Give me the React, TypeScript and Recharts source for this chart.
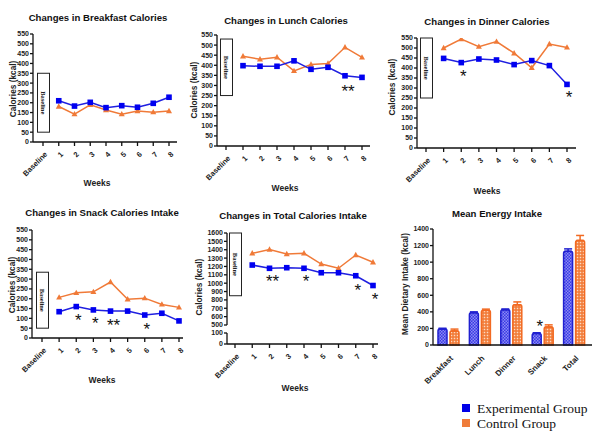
import React from 'react';
import {
  LineChart, Line, XAxis, YAxis, ReferenceArea, ReferenceDot,
  BarChart, Bar, ErrorBar,
} from 'recharts';

const weeks = ['Baseline', '1', '2', '3', '4', '5', '6', '7', '8'];

const breakfastExp = [null, 210, 183, 202, 175, 185, 177, 197, 228];
const breakfastCtrl = [null, 181, 142, 189, 163, 142, 158, 152, 158];
const lunchExp = [null, 398, 395, 395, 422, 380, 390, 348, 340];
const lunchCtrl = [null, 445, 430, 440, 372, 404, 409, 489, 439];
const dinnerExp = [null, 448, 427, 445, 440, 417, 437, 412, 318];
const dinnerCtrl = [null, 500, 545, 507, 532, 474, 401, 520, 503];
const snackExp = [null, 134, 160, 143, 137, 137, 117, 126, 87];
const snackCtrl = [null, 207, 230, 235, 285, 197, 203, 171, 156];
const totalExp = [null, 1217, 1178, 1185, 1178, 1125, 1125, 1089, 972];
const totalCtrl = [null, 1357, 1403, 1349, 1357, 1229, 1178, 1337, 1250];

const calorieTicks = [0, 50, 100, 150, 200, 250, 300, 350, 400, 450, 500, 550];
const totalUpperTicks = [500, 600, 700, 800, 900, 1000, 1100, 1200, 1300, 1400, 1500, 1600];
const totalLowerTicks = [0, 100];

// baseline box ranges [bottom, top]
const breakfastBase = [50, 350];
const lunchBase = [250, 530];
const dinnerBase = [250, 550];
const snackBase = [50, 335];
const totalBase = [850, 1600];

const lunchStars = [{ week: '7', level: 287, mark: '**' }];
const dinnerStars = [
  { week: '2', level: 375, mark: '*' },
  { week: '8', level: 270, mark: '*' },
];
const snackStars = [
  { week: '2', level: 105, mark: '*' },
  { week: '3', level: 92, mark: '*' },
  { week: '4', level: 82, mark: '**' },
  { week: '6', level: 61, mark: '*' },
];
const totalStars = [
  { week: '2', level: 1062, mark: '**' },
  { week: '4', level: 1062, mark: '*' },
  { week: '7', level: 954, mark: '*' },
  { week: '8', level: 846, mark: '*' },
];

const meals = ['Breakfast', 'Lunch', 'Dinner', 'Snack', 'Total'];
const meanExp = [192, 390, 425, 140, 1130];
const meanCtrl = [170, 418, 485, 218, 1262];
const errExp = [10, 10, 10, 8, 30];
const errCtrl = [22, 15, 35, 25, 60];
const mealStars = [{ meal: 'Snack', level: 265, mark: '*' }];

const BLUE = '#1f1fe0';
const ORANGE = '#f07a38';
const FONT = '"Liberation Sans", Arial, sans-serif';

const toRows = (exp: (number | null)[], ctrl: (number | null)[]) =>
  weeks.map((w, i) => ({ week: w, exp: exp[i], ctrl: ctrl[i] }));

type Box = { x0: number; x1: number; y0: number; y1: number };
type Star = { week: string; level: number; mark: string };

const YW = 30, MT = 6, MR = 6, XH = 40;

const SquareDot = (p: any) =>
  p.cy == null || p.value == null ? <g key={p.key} /> : (
    <rect key={p.key} x={p.cx - 2.8} y={p.cy - 2.8} width={5.6} height={5.6} fill="#0000f0" />
  );

const TriDot = (p: any) =>
  p.cy == null || p.value == null ? <g key={p.key} /> : (
    <polygon key={p.key} points={`${p.cx},${p.cy - 3.2} ${p.cx + 3},${p.cy + 2.2} ${p.cx - 3},${p.cy + 2.2}`} fill={ORANGE} />
  );

const SlantTick = (p: any) => (
  <g transform={`translate(${p.x + 2},${p.y + 4})`}>
    <text x={0} y={0} dy={4} textAnchor="end" transform="rotate(-45)" fontSize={7.5} fontWeight="bold" fill="#222" fontFamily={FONT}>
      {p.payload.value}
    </text>
  </g>
);

const BaselineBox = (p: any) => {
  const cx = p.x;
  const top = p.y;
  const h = p.height;
  return (
    <g>
      <rect x={cx - 5.5} y={top} width={12} height={h} fill="#fff" stroke="#222" strokeWidth={1} />
      <text
        x={cx + 0.5}
        y={top + h / 2}
        transform={`rotate(90, ${cx + 0.5}, ${top + h / 2})`}
        textAnchor="middle"
        dominantBaseline="central"
        fontSize={6.5}
        fontWeight="bold"
        fontFamily='"Liberation Serif", serif'
        fill="#222"
      >
        Baseline
      </text>
    </g>
  );
};

const starShape = (mark: string, dx: number) => (p: any) => (
  <text x={p.cx + dx} y={p.cy + 9} textAnchor="middle" fontSize={17} fill="#111" fontFamily={FONT}>
    {mark}
  </text>
);

const yTick = { fontSize: 7, fontWeight: 'bold', fill: '#222', fontFamily: FONT } as any;

function LinePanel(props: {
  box: Box; exp: (number | null)[]; ctrl: (number | null)[]; ticks: number[];
  padL: number; padR: number; base?: number[]; stars?: Star[];
  showX?: boolean; showLines?: boolean;
}) {
  const { box, exp, ctrl, ticks, padL, padR, base, stars = [], showX = true, showLines = true } = props;
  const mb = showX ? 0 : 6;
  const width = box.x1 - box.x0 + YW + MR;
  const height = box.y1 - box.y0 + MT + (showX ? XH : mb);
  const data = toRows(exp, ctrl);
  return (
    <div style={{ position: 'absolute', left: box.x0 - YW, top: box.y0 - MT }}>
      <LineChart width={width} height={height} data={data} margin={{ top: MT, right: MR, left: 0, bottom: mb }}>
        <XAxis
          dataKey="week"
          hide={!showX}
          height={XH}
          interval={0}
          padding={{ left: padL, right: padR }}
          tick={<SlantTick />}
          tickSize={4}
          stroke="#111"
          strokeWidth={1.3}
        />
        <YAxis
          width={YW}
          type="number"
          domain={[ticks[0], ticks[ticks.length - 1]]}
          ticks={ticks}
          interval={0}
          allowDataOverflow
          tick={yTick}
          tickSize={3}
          tickMargin={1}
          stroke="#111"
          strokeWidth={1.3}
        />
        {base && (
          <ReferenceArea x1="Baseline" x2="1" y1={base[0]} y2={base[1]} shape={BaselineBox} />
        )}
        <Line dataKey="ctrl" stroke={showLines ? ORANGE : 'none'} strokeWidth={1.5}
          dot={showLines ? TriDot : false} isAnimationActive={false} />
        <Line dataKey="exp" stroke={showLines ? BLUE : 'none'} strokeWidth={1.5}
          dot={showLines ? SquareDot : false} isAnimationActive={false} />
        {stars.map((s, i) => (
          <ReferenceDot key={i} x={s.week} y={s.level} r={0} shape={starShape(s.mark, s.mark.length > 1 ? 3 : 2)} />
        ))}
      </LineChart>
    </div>
  );
}

const MealTick = (p: any) => (
  <g transform={`translate(${p.x + 2},${p.y + 3})`}>
    <text x={0} y={0} dy={4} textAnchor="end" transform="rotate(-45)" fontSize={8} fontWeight="bold" fill="#222" fontFamily={FONT}>
      {p.payload.value}
    </text>
  </g>
);

function BarPanel() {
  const box = { x0: 433, x1: 592, y0: 229, y1: 345 };
  const data = meals.map((m, i) => ({
    meal: m,
    exp: meanExp[i],
    ctrl: meanCtrl[i],
    expErr: [0, errExp[i]],
    ctrlErr: [0, errCtrl[i]],
  }));
  const yw = 34;
  return (
    <div style={{ position: 'absolute', left: box.x0 - yw, top: box.y0 - MT }}>
      <BarChart
        width={box.x1 - box.x0 + yw + 4}
        height={box.y1 - box.y0 + MT + 50}
        data={data}
        margin={{ top: MT, right: 4, left: 0, bottom: 0 }}
        barSize={9}
        barGap={3}
      >
        <defs>
          <pattern id="blueCheck" width="3" height="3" patternUnits="userSpaceOnUse">
            <rect width="3" height="3" fill="#3a3ae6" />
            <rect width="1.5" height="1.5" fill="#8c8cf2" />
            <rect x="1.5" y="1.5" width="1.5" height="1.5" fill="#8c8cf2" />
          </pattern>
          <pattern id="orangeHatch" width="3" height="3" patternUnits="userSpaceOnUse">
            <rect width="3" height="3" fill="#f27a36" />
            <rect x="0.75" y="0.75" width="1.5" height="1.5" fill="#fcd9c2" />
          </pattern>
        </defs>
        <XAxis
          dataKey="meal"
          height={50}
          interval={0}
          padding={{ left: 0, right: 2 }}
          tick={<MealTick />}
          tickLine={false}
          stroke="#111"
          strokeWidth={1.3}
        />
        <YAxis
          width={yw}
          type="number"
          domain={[0, 1400]}
          ticks={[0, 200, 400, 600, 800, 1000, 1200, 1400]}
          interval={0}
          tick={yTick}
          tickSize={3}
          tickMargin={1}
          stroke="#111"
          strokeWidth={1.3}
        />
        <Bar dataKey="exp" fill="url(#blueCheck)" stroke="#2020d0" strokeWidth={1.5} radius={[2, 2, 0, 0]} isAnimationActive={false}>
          <ErrorBar dataKey="expErr" width={4} stroke="#2020d0" strokeWidth={1.5} direction="y" />
        </Bar>
        <Bar dataKey="ctrl" fill="url(#orangeHatch)" stroke="#f26a22" strokeWidth={1.5} radius={[2, 2, 0, 0]} isAnimationActive={false}>
          <ErrorBar dataKey="ctrlErr" width={4} stroke="#f26a22" strokeWidth={1.5} direction="y" />
        </Bar>
        {mealStars.map((s, i) => (
          <ReferenceDot key={i} x={s.meal} y={s.level} r={0} shape={starShape(s.mark, -3)} />
        ))}
      </BarChart>
    </div>
  );
}

const titles = [
  { text: 'Changes in Breakfast Calories', x: 98, y: 21 },
  { text: 'Changes in Lunch Calories', x: 286, y: 24 },
  { text: 'Changes in Dinner Calories', x: 487, y: 25 },
  { text: 'Changes in Snack Calories Intake', x: 102, y: 216 },
  { text: 'Changes in Total Calories Intake', x: 293, y: 219 },
  { text: 'Mean Energy Intake', x: 497, y: 217 },
];

const xLabels = [
  { x: 97, y: 186 },
  { x: 285, y: 191 },
  { x: 487, y: 194 },
  { x: 102, y: 383 },
  { x: 295, y: 391 },
];

const yLabels = [
  { text: 'Calories (kcal)', x: 13, y: 89 },
  { text: 'Calories (kcal)', x: 194, y: 90 },
  { text: 'Calories (kcal)', x: 392, y: 87 },
  { text: 'Calories (kcal)', x: 12, y: 285 },
  { text: 'Calories (kcal)', x: 199, y: 287 },
  { text: 'Mean Dietary Intake (kcal)', x: 405, y: 284 },
];

const legendItems = [
  { text: 'Experimental Group', color: '#0000e8' },
  { text: 'Control Group', color: '#ef7c3a' },
];

export default function App() {
  return (
    <div style={{ position: 'absolute', left: 0, top: 0, width: 602, height: 438, background: '#fff', overflow: 'hidden' }}>
      <LinePanel box={{ x0: 33, x1: 177, y0: 34, y1: 142 }} exp={breakfastExp} ctrl={breakfastCtrl}
        ticks={calorieTicks} padL={10} padR={8} base={breakfastBase} />
      <LinePanel box={{ x0: 217, x1: 370, y0: 35, y1: 146 }} exp={lunchExp} ctrl={lunchCtrl}
        ticks={calorieTicks} padL={9} padR={8} base={lunchBase} stars={lunchStars} />
      <LinePanel box={{ x0: 417, x1: 576, y0: 38, y1: 148 }} exp={dinnerExp} ctrl={dinnerCtrl}
        ticks={calorieTicks} padL={9} padR={9} base={dinnerBase} stars={dinnerStars} />
      <LinePanel box={{ x0: 32, x1: 183, y0: 230, y1: 338 }} exp={snackExp} ctrl={snackCtrl}
        ticks={calorieTicks} padL={10} padR={4} base={snackBase} stars={snackStars} />
      <LinePanel box={{ x0: 227, x1: 378, y0: 233, y1: 325 }} exp={totalExp} ctrl={totalCtrl}
        ticks={totalUpperTicks} padL={8} padR={5} base={totalBase} stars={totalStars} showX={false} />
      <LinePanel box={{ x0: 227, x1: 378, y0: 333, y1: 344 }} exp={totalExp} ctrl={totalCtrl}
        ticks={totalLowerTicks} padL={8} padR={5} showLines={false} />
      <BarPanel />
      <svg width={602} height={438} style={{ position: 'absolute', left: 0, top: 0, pointerEvents: 'none' }}>
        {titles.map((t, i) => (
          <text key={i} x={t.x} y={t.y} textAnchor="middle" fontSize={9.6} fontWeight="bold" fill="#111" fontFamily={FONT}>
            {t.text}
          </text>
        ))}
        {xLabels.map((t, i) => (
          <text key={i} x={t.x} y={t.y} textAnchor="middle" fontSize={8.5} fontWeight="bold" fill="#222" fontFamily={FONT}>
            Weeks
          </text>
        ))}
        {yLabels.map((t, i) => (
          <text key={i} x={t.x} y={t.y} transform={`rotate(-90, ${t.x}, ${t.y})`} textAnchor="middle"
            dominantBaseline="central" fontSize={8.3} fontWeight="bold" fill="#222" fontFamily={FONT}>
            {t.text}
          </text>
        ))}
        {legendItems.map((l, i) => (
          <g key={i}>
            <rect x={462} y={404 + i * 15} width={8} height={8} fill={l.color} />
            <text x={477} y={413 + i * 15} fontSize={13.5} fill="#111" fontFamily='"Liberation Serif", "Times New Roman", serif'>
              {l.text}
            </text>
          </g>
        ))}
      </svg>
    </div>
  );
}
